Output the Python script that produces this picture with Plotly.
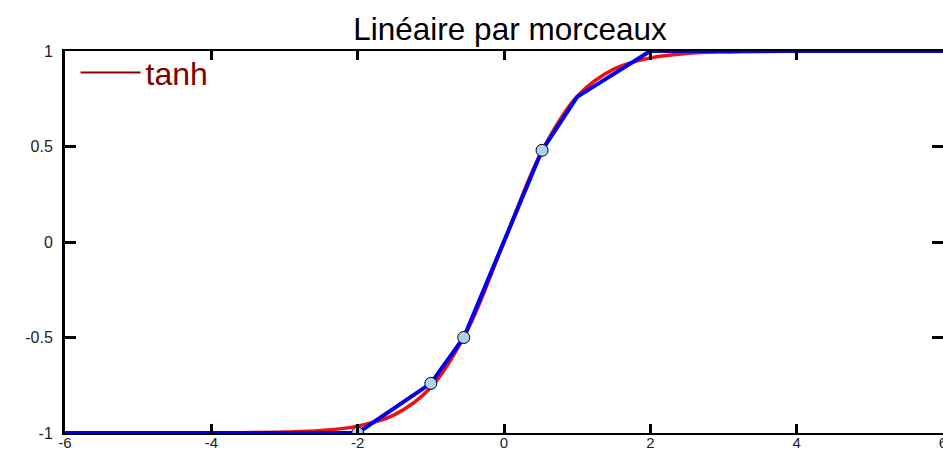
import plotly.graph_objects as go

# Smooth reference curve: hyperbolic tangent sampled at a few abscissae
tanh_x = [-6, -4, -3, -2.5, -2, -1.5, -1, -0.5, 0, 0.5, 1, 1.5, 2, 2.5, 3, 4, 6]
tanh_y = [-1.0, -0.999, -0.995, -0.987, -0.964, -0.905, -0.762, -0.462, 0.0,
          0.462, 0.762, 0.905, 0.964, 0.987, 0.995, 0.999, 1.0]

# Piecewise-linear approximation (breakpoints)
pw_x = [-6, -2, -1, -0.55, 0.52, 1, 2, 6]
pw_y = [-1, -1, -0.74, -0.5, 0.48, 0.76, 1, 1]

# Highlighted knots
knot_x = [-2, -1, -0.55, 0.52]
knot_y = [-1, -0.74, -0.5, 0.48]

x_ticks = [-6, -4, -2, 0, 2, 4, 6]
x_tick_text = ["-6", "-4", "-2", "0", "2", "4", "6"]
y_ticks = [-1, -0.5, 0, 0.5, 1]
y_tick_text = ["-1", "-0.5", "0", "0.5", "1"]

fig = go.Figure()
fig.add_trace(go.Scatter(
    x=tanh_x, y=tanh_y, mode="lines", name="tanh",
    line=dict(color="#ee1111", width=3.5, shape="spline", smoothing=1.0),
    showlegend=False,
))
fig.add_trace(go.Scatter(
    x=pw_x, y=pw_y, mode="lines", name="lin",
    line=dict(color="#0000ee", width=4), showlegend=False,
))
fig.add_trace(go.Scatter(
    x=knot_x, y=knot_y, mode="markers", name="knots",
    marker=dict(color="#a9d3f5", size=12, line=dict(color="black", width=1)),
    showlegend=False,
))
# Legend entry
fig.add_trace(go.Scatter(
    x=[None], y=[None], mode="lines", name="tanh",
    line=dict(color="#8b0000", width=2),
))
# Empty trace so the right-hand tick axis is drawn
fig.add_trace(go.Scatter(x=[None], y=[None], yaxis="y2", showlegend=False))

font_family = "Liberation Sans, Arial, sans-serif"

fig.update_layout(
    width=943, height=451,
    margin=dict(l=65, r=0, t=51, b=18, autoexpand=False),
    paper_bgcolor="white", plot_bgcolor="white",
    title=dict(text="Linéaire par morceaux", x=510 / 943, xref="container",
               xanchor="center", y=1 - 29 / 451, yref="container", yanchor="middle",
               font=dict(family=font_family, size=31.5, color="black")),
    xaxis=dict(range=[-6, 6], tickvals=x_ticks, ticktext=x_tick_text, ticks="inside",
               ticklen=9, tickwidth=3, tickcolor="black", showline=True,
               linecolor="black", linewidth=2, mirror="ticks", showgrid=False,
               zeroline=False, ticklabeloverflow="allow", automargin=False,
               ticklabelstandoff=-5,
               tickfont=dict(family=font_family, size=15, color="#222222")),
    yaxis=dict(range=[-1, 1], tickvals=y_ticks, ticktext=y_tick_text, ticks="inside",
               ticklen=11, tickwidth=3, tickcolor="black", showline=True,
               linecolor="black", linewidth=3, mirror=False, showgrid=False,
               zeroline=False, ticklabelstandoff=6, automargin=False,
               tickfont=dict(family=font_family, size=16, color="#222222")),
    yaxis2=dict(range=[-1, 1], overlaying="y", side="right", tickvals=y_ticks,
                ticks="inside", ticklen=11, tickwidth=3, tickcolor="black",
                showline=False, showgrid=False, zeroline=False, showticklabels=False,
                automargin=False),
    legend=dict(x=0.012, y=1.015, xanchor="left", yanchor="top",
                bgcolor="rgba(0,0,0,0)", itemwidth=60,
                font=dict(family=font_family, size=32, color="#800000")),
)

fig.write_html("out.html")
